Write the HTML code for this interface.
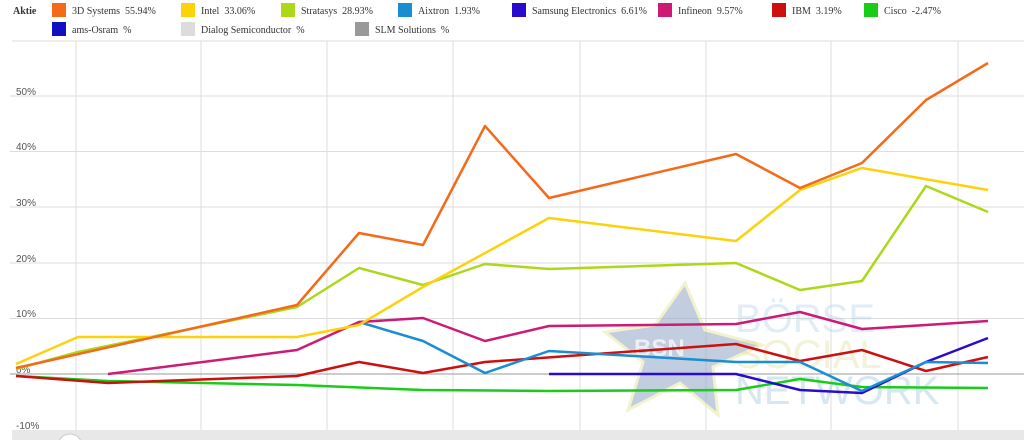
<!DOCTYPE html>
<html><head><meta charset="utf-8"><style>
body{margin:0;width:1024px;height:440px;overflow:hidden;background:#fff;font-family:"Liberation Serif",serif;}
.lg{position:absolute;font-size:10px;color:#333;}
.sw{position:absolute;width:14px;height:14px;}
</style></head><body>
<div class="lg" style="left:13px;top:6px;font-weight:bold">Aktie</div>
<div class="sw" style="left:52px;top:3px;background:#f46a1a"></div><div class="lg" style="left:72px;top:6px">3D Systems&nbsp; 55.94%</div>
<div class="sw" style="left:181px;top:3px;background:#fcd20a"></div><div class="lg" style="left:201px;top:6px">Intel&nbsp; 33.06%</div>
<div class="sw" style="left:281px;top:3px;background:#acd81a"></div><div class="lg" style="left:301px;top:6px">Stratasys&nbsp; 28.93%</div>
<div class="sw" style="left:398px;top:3px;background:#1a8ed0"></div><div class="lg" style="left:418px;top:6px">Aixtron&nbsp; 1.93%</div>
<div class="sw" style="left:512px;top:3px;background:#2a0acb"></div><div class="lg" style="left:532px;top:6px">Samsung Electronics&nbsp; 6.61%</div>
<div class="sw" style="left:658px;top:3px;background:#cc1a75"></div><div class="lg" style="left:678px;top:6px">Infineon&nbsp; 9.57%</div>
<div class="sw" style="left:772px;top:3px;background:#cc1010"></div><div class="lg" style="left:792px;top:6px">IBM&nbsp; 3.19%</div>
<div class="sw" style="left:864px;top:3px;background:#18cc18"></div><div class="lg" style="left:884px;top:6px">Cisco&nbsp; -2.47%</div>
<div class="sw" style="left:52px;top:22px;background:#1010c0"></div><div class="lg" style="left:72px;top:25px">ams-Osram&nbsp; %</div>
<div class="sw" style="left:181px;top:22px;background:#dcdcdc"></div><div class="lg" style="left:201px;top:25px">Dialog Semiconductor&nbsp; %</div>
<div class="sw" style="left:355px;top:22px;background:#999"></div><div class="lg" style="left:375px;top:25px">SLM Solutions&nbsp; %</div>
<svg width="1024" height="440" style="position:absolute;left:0;top:0">
<line x1="12" y1="41" x2="1024" y2="41" stroke="#ddd"/>
<g stroke="#ddd" stroke-width="1">
<line x1="76" y1="41" x2="76" y2="430"/><line x1="201" y1="41" x2="201" y2="430"/><line x1="327" y1="41" x2="327" y2="430"/><line x1="453" y1="41" x2="453" y2="430"/><line x1="580" y1="41" x2="580" y2="430"/><line x1="706" y1="41" x2="706" y2="430"/><line x1="831" y1="41" x2="831" y2="430"/><line x1="958" y1="41" x2="958" y2="430"/>
<line x1="10" y1="96" x2="1024" y2="96"/><line x1="10" y1="151.5" x2="1024" y2="151.5"/><line x1="10" y1="207" x2="1024" y2="207"/><line x1="10" y1="263" x2="1024" y2="263"/><line x1="10" y1="318.5" x2="1024" y2="318.5"/>
</g>
<line x1="10" y1="374" x2="1024" y2="374" stroke="#999"/>
<g font-family="Liberation Sans, sans-serif" font-size="10" fill="#555">
<text x="16" y="95">50%</text><text x="16" y="150">40%</text><text x="16" y="206">30%</text><text x="16" y="262">20%</text><text x="16" y="317">10%</text><text x="16" y="373">0%</text><text x="16" y="429">-10%</text>
</g>
<polygon points="685,283 655,325 605,332 643,362 628,410 680,383 718,415 713,367 762,345 705,330" fill="#9aaccc" opacity="0.6" stroke="#e8ecb0" stroke-width="3"/>
<text x="634" y="356" font-family="Liberation Sans, sans-serif" font-size="24" font-weight="bold" fill="#fff" opacity="0.7">BSN</text>
<g font-family="Liberation Sans, sans-serif" font-size="40" opacity="0.35">
<text x="735" y="332" fill="#a8cce8">BÖRSE</text><text x="735" y="368" fill="#d8dc90">SOCIAL</text><text x="735" y="404" fill="#8cbcdc">NETWORK</text>
</g>
<g fill="none" stroke-width="2.5" stroke-linejoin="round">
<polyline stroke="#18cc18" points="16,376 108,381 297,385 423,390 549,391 736,390 800,379 862,387 988,388"/>
<polyline stroke="#cc1010" points="16,376 108,383 297,376 359,362 423,373 485,362 736,344 800,361 862,350 926,371 988,357"/>
<polyline stroke="#2a0acb" points="549,374 736,374 800,390 862,393 926,362 988,338"/>
<polyline stroke="#1a8ed0" points="359,322 423,341 485,373 549,351 736,362 800,362 862,391 926,362 988,363"/>
<polyline stroke="#cc1a75" points="108,374 297,350 359,322 423,318 485,341 549,326 736,324 800,312 862,329 926,325 988,321"/>
<polyline stroke="#acd81a" points="16,369 78,352 297,307 359,268 423,285 485,264 549,269 736,263 800,290 862,281 926,186 988,212"/>
<polyline stroke="#fcd20a" points="16,364 78,337 297,337 359,325 423,287 549,218 736,241 800,190 862,168 988,190"/>
<polyline stroke="#f46a1a" points="16,368 297,305 359,233 423,245 485,126 549,198 736,154 800,188 862,163 926,100 988,63"/>
</g>
<rect x="12" y="430" width="1012" height="10" fill="#e8e8e8"/>
<circle cx="70" cy="446" r="12" fill="#fff" stroke="#ccc"/>
</svg>
</body></html>
